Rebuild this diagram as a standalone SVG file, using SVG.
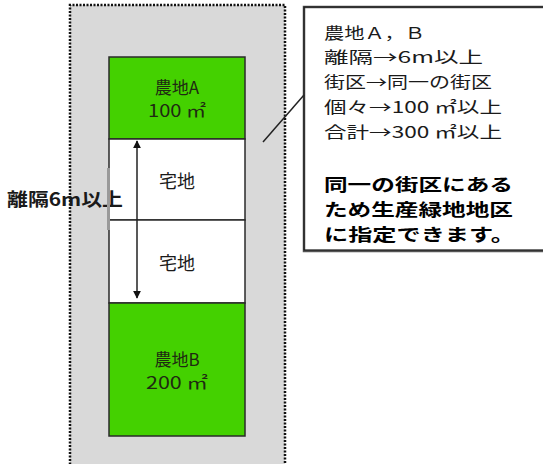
<svg xmlns="http://www.w3.org/2000/svg" width="543" height="464" viewBox="0 0 543 464">
<style>
.lot{stroke:#2a2a2a;stroke-width:1.5}
.green{fill:#44d100}
.white{fill:#ffffff}
.t{font-family:"Noto Sans CJK JP","Liberation Sans",sans-serif;fill:#1a1a1a}
.lbl{font-size:17px;text-anchor:middle;fill:#1f2a12}
.res{font-size:18px;text-anchor:middle}
.note{font-size:16px}
.bold{font-size:17px;font-weight:bold;fill:#000}
</style>
<defs>
<marker id="ah" viewBox="0 0 10 10" refX="9" refY="5" markerWidth="8" markerHeight="8" markerUnits="userSpaceOnUse" orient="auto-start-reverse">
<path d="M0,0 L10,5 L0,10 z" fill="#111"/>
</marker>
</defs>
<rect width="543" height="464" fill="#ffffff"/>
<g id="block">
<rect x="70" y="5" width="215" height="470" fill="#d9d9d9"/>
<path d="M70,475 V5 H285 V475" fill="none" stroke="#111" stroke-width="2.5" stroke-dasharray="2 1.5"/>
</g>
<g id="farmA">
<rect class="lot green" x="109" y="57" width="136" height="82"/>
<text class="t lbl" x="177" y="94">農地A</text>
<text class="t lbl" x="177" y="117" textLength="58" lengthAdjust="spacingAndGlyphs">100 ㎡</text>
</g>
<g id="house1">
<rect class="lot white" x="109" y="139" width="136" height="81"/>
<text class="t res" x="177" y="188">宅地</text>
</g>
<g id="house2">
<rect class="lot white" x="109" y="220" width="136" height="83"/>
<text class="t res" x="177" y="270">宅地</text>
</g>
<g id="farmB">
<rect class="lot green" x="109" y="303" width="136" height="133"/>
<text class="t lbl" x="177" y="366">農地B</text>
<text class="t lbl" x="177" y="389" textLength="62" lengthAdjust="spacingAndGlyphs">200 ㎡</text>
</g>
<g id="distance-label">
<text class="t" x="7" y="206" font-size="18" font-weight="bold" fill="#222" textLength="116" lengthAdjust="spacingAndGlyphs">離隔6m以上</text>
</g>
<g id="callout">
<rect x="304" y="7" width="260" height="244" fill="#ffffff" stroke="#555" stroke-width="2.5"/>
<rect x="304" y="7" width="260" height="243" fill="none" stroke="#111" stroke-width="1"/>
<text class="t note" x="324" y="39" textLength="101" lengthAdjust="spacingAndGlyphs">農地Ａ，Ｂ</text>
<text class="t note" x="324" y="63" textLength="159" lengthAdjust="spacingAndGlyphs">離隔→6m以上</text>
<text class="t note" x="324" y="88" textLength="168" lengthAdjust="spacingAndGlyphs">街区→同一の街区</text>
<text class="t note" x="324" y="113" textLength="178" lengthAdjust="spacingAndGlyphs">個々→100 ㎡以上</text>
<text class="t note" x="324" y="138" textLength="178" lengthAdjust="spacingAndGlyphs">合計→300 ㎡以上</text>
<text class="t bold" x="324" y="191" textLength="189" lengthAdjust="spacingAndGlyphs">同一の街区にある</text>
<text class="t bold" x="324" y="216" textLength="189" lengthAdjust="spacingAndGlyphs">ため生産緑地地区</text>
<text class="t bold" x="324" y="241" textLength="191" lengthAdjust="spacingAndGlyphs">に指定できます。</text>
</g>
<g id="connectors">
<line x1="137" y1="141" x2="137" y2="298" stroke="#222" stroke-width="1.5" marker-start="url(#ah)" marker-end="url(#ah)"/>
<line x1="108.5" y1="168" x2="108.5" y2="230" stroke="#9a9a9a" stroke-width="3"/>
<line x1="263" y1="142" x2="304" y2="95" stroke="#222" stroke-width="1.5"/>
</g>
</svg>
